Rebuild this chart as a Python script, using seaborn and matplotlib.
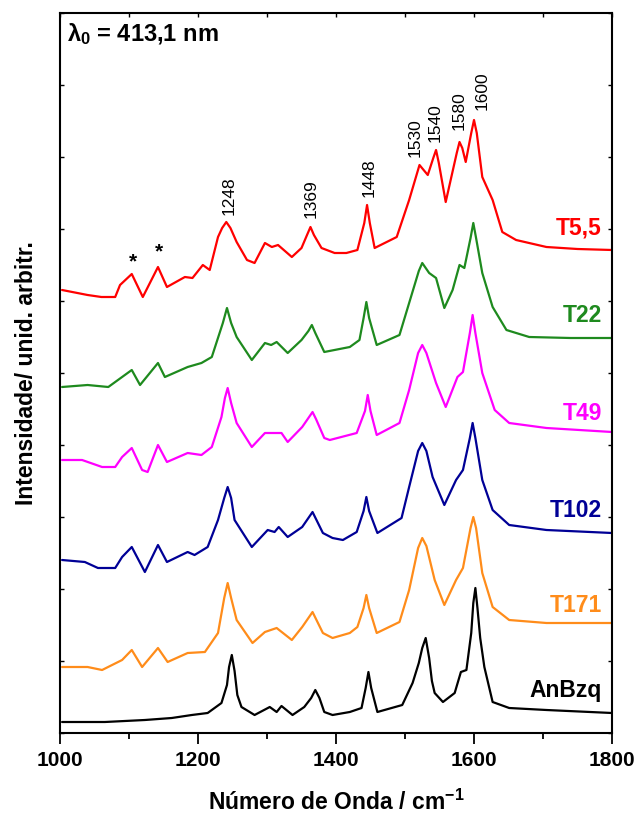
import numpy as np
import pandas as pd
import matplotlib
matplotlib.use("Agg")
import matplotlib.pyplot as plt
import seaborn as sns
from matplotlib.ticker import MultipleLocator

# ---------------- data (intensities as displayed, stacked, arbitrary units) -------------
series_names = ["T5,5", "T22", "T49", "T102", "T171", "AnBzq"]
series_colors = ["#ff0000", "#1e8a1e", "#ff00ff", "#000096", "#ff8c1a", "#000000"]

wn_t55 = [1003, 1040, 1060, 1080, 1087, 1104, 1120, 1142, 1155, 1181, 1192, 1207, 1217, 1229, 1235,
          1241, 1247, 1256, 1271, 1282, 1297, 1307, 1316, 1336, 1350, 1358, 1363, 1368, 1379, 1398,
          1415, 1431, 1441, 1445, 1449, 1456, 1488, 1506, 1521, 1533, 1541, 1545, 1549, 1559, 1575,
          1579, 1583, 1588, 1596, 1600, 1604, 1612, 1627, 1641, 1661, 1705, 1750, 1800]
int_t55 = [443, 438, 436, 436, 448, 459, 436, 466, 446, 456, 455, 468, 463, 496, 505,
           511, 505, 491, 473, 470, 490, 486, 488, 476, 485, 498, 506, 498, 485, 480,
           480, 483, 510, 528, 510, 485, 496, 533, 568, 558, 575, 583, 570, 531, 580,
           591, 585, 571, 600, 613, 600, 556, 533, 501, 493, 486, 484, 483]

wn_t22 = [1003, 1040, 1070, 1090, 1104, 1116, 1142, 1152, 1185, 1205, 1220, 1236, 1242, 1248, 1256,
          1278, 1297, 1306, 1314, 1330, 1350, 1360, 1365, 1370, 1383, 1420, 1434, 1440, 1444, 1448,
          1459, 1492, 1506, 1520, 1525, 1530, 1535, 1545, 1557, 1569, 1579, 1586, 1595, 1599, 1603,
          1612, 1627, 1647, 1680, 1740, 1800]
int_t22 = [346, 348, 346, 356, 363, 348, 370, 356, 366, 370, 376, 410, 425, 410, 396,
           373, 390, 388, 391, 380, 393, 402, 408, 400, 381, 386, 393, 415, 431, 415,
           388, 398, 430, 462, 470, 465, 460, 455, 425, 443, 468, 465, 495, 510, 495,
           460, 426, 403, 396, 395, 395]

wn_t49 = [1003, 1032, 1061, 1080, 1090, 1104, 1119, 1127, 1142, 1155, 1185, 1205, 1220, 1234, 1239,
          1243, 1248, 1256, 1278, 1297, 1321, 1330, 1351, 1361, 1366, 1371, 1383, 1391, 1430, 1442,
          1446, 1450, 1459, 1492, 1506, 1519, 1525, 1531, 1545, 1559, 1576, 1584, 1594, 1598, 1602,
          1612, 1630, 1651, 1705, 1800]
int_t49 = [273, 273, 266, 266, 276, 285, 263, 261, 288, 271, 280, 278, 286, 316, 335,
           345, 330, 310, 286, 300, 300, 291, 306, 316, 321, 314, 295, 293, 300, 322,
           338, 322, 298, 310, 343, 380, 388, 380, 350, 326, 356, 361, 400, 418, 400,
           360, 323, 310, 305, 301]

wn_t102 = [1003, 1036, 1055, 1080, 1090, 1104, 1123, 1142, 1155, 1185, 1195, 1214, 1229, 1238, 1243,
           1248, 1253, 1278, 1301, 1311, 1317, 1330, 1351, 1361, 1366, 1371, 1381, 1395, 1410, 1430,
           1440, 1444, 1448, 1460, 1495, 1506, 1519, 1525, 1531, 1540, 1557, 1574, 1584, 1594, 1598,
           1602, 1612, 1627, 1651, 1705, 1800]
int_t102 = [173, 171, 165, 165, 176, 186, 161, 188, 171, 181, 178, 186, 213, 235, 246,
            235, 213, 186, 203, 201, 206, 196, 206, 216, 221, 214, 200, 195, 193, 201,
            222, 236, 222, 200, 215, 246, 282, 290, 282, 256, 228, 253, 263, 295, 310,
            295, 253, 223, 208, 203, 200]

wn_t171 = [1003, 1040, 1061, 1090, 1104, 1119, 1142, 1156, 1185, 1210, 1229, 1238, 1243, 1248, 1256,
           1279, 1297, 1314, 1336, 1351, 1361, 1366, 1371, 1381, 1395, 1420, 1431, 1440, 1444, 1448,
           1459, 1492, 1506, 1519, 1525, 1531, 1543, 1557, 1574, 1584, 1595, 1599, 1603, 1612, 1627,
           1651, 1705, 1800]
int_t171 = [66, 66, 63, 73, 83, 66, 85, 71, 80, 81, 100, 135, 150, 135, 113,
            90, 101, 105, 93, 106, 116, 121, 114, 100, 95, 100, 106, 125, 138, 125,
            100, 111, 143, 185, 195, 187, 153, 128, 153, 165, 205, 216, 205, 160, 126,
            113, 110, 110]

wn_anbzq = [1003, 1065, 1123, 1162, 1191, 1214, 1234, 1242, 1245, 1249, 1253, 1257, 1263, 1282, 1304,
            1314, 1321, 1337, 1354, 1364, 1370, 1376, 1383, 1395, 1420, 1437, 1443, 1447, 1451, 1460,
            1496, 1511, 1520, 1525, 1530, 1535, 1539, 1543, 1555, 1572, 1581, 1589, 1596, 1599, 1602,
            1605, 1609, 1615, 1627, 1651, 1705, 1800]
int_anbzq = [11, 11, 13, 15, 18, 20, 30, 48, 66, 78, 62, 38, 26, 18, 26,
             21, 27, 18, 26, 35, 43, 35, 21, 18, 21, 25, 45, 61, 45, 21,
             28, 50, 70, 85, 95, 75, 52, 40, 31, 40, 61, 63, 100, 130, 145,
             125, 95, 66, 31, 25, 23, 20]

# peak annotations
peak_labels = ["1248", "1369", "1448", "1530", "1540", "1580", "1600"]
peak_label_x = [1245, 1364, 1448, 1515, 1544, 1579, 1612]
peak_label_y = [518, 515, 536, 576, 591, 603, 623]

star_x = [1106, 1144]
star_y = [471, 481]

# series label anchor (baseline, right aligned)
label_y = [498, 411, 313, 216, 121, 36]

# ---------------- style -------------------------------------------------------------------
sns.set_theme(style="white")
plt.rcParams["font.family"] = ["Liberation Sans", "DejaVu Sans"]
plt.rcParams["mathtext.fontset"] = "custom"
plt.rcParams["mathtext.rm"] = "Liberation Sans:bold"
plt.rcParams["mathtext.it"] = "Liberation Sans:bold"
plt.rcParams["mathtext.bf"] = "Liberation Sans:bold"
plt.rcParams["text.color"] = "black"
plt.rcParams["axes.labelcolor"] = "black"
plt.rcParams["xtick.color"] = "black"
plt.rcParams["ytick.color"] = "black"

frames = []
for name, wn, it in [("T5,5", wn_t55, int_t55), ("T22", wn_t22, int_t22), ("T49", wn_t49, int_t49),
                     ("T102", wn_t102, int_t102), ("T171", wn_t171, int_t171),
                     ("AnBzq", wn_anbzq, int_anbzq)]:
    frames.append(pd.DataFrame({"wn": wn, "I": it, "amostra": name}))
df = pd.concat(frames, ignore_index=True)
palette = dict(zip(series_names, series_colors))

fig = plt.figure(figsize=(6.39, 8.16), dpi=100)
ax = fig.add_axes([60 / 639, 1 - 733 / 816, 552 / 639, 720 / 816])

sns.lineplot(data=df, x="wn", y="I", hue="amostra", palette=palette, estimator=None,
             sort=False, linewidth=1.6, legend=False, ax=ax)

ax.set_xlim(1000, 1800)
ax.set_ylim(0, 720)

for sp in ax.spines.values():
    sp.set_linewidth(1.5)
    sp.set_color("black")

ax.xaxis.set_major_locator(MultipleLocator(200))
ax.xaxis.set_minor_locator(MultipleLocator(100))
ax.tick_params(axis="x", which="major", direction="out", length=8, width=1.3, bottom=True,
               top=False, pad=5, labelsize=15, colors="black")
ax.tick_params(axis="x", which="minor", direction="out", length=4.5, width=1.3, bottom=True, top=False)
for lab in ax.get_xticklabels():
    lab.set_fontweight("bold")

ax.yaxis.set_major_locator(MultipleLocator(72))
ax.tick_params(axis="y", which="major", direction="in", length=3, width=1.0, left=True, right=True,
               labelleft=False)

axt = ax.twiny()
axt.set_xlim(1000, 1800)
axt.xaxis.set_major_locator(MultipleLocator(100))
axt.tick_params(axis="x", direction="in", length=3, width=1.0, top=True, labeltop=False)
for sp in axt.spines.values():
    sp.set_visible(False)

ax.set_xlabel(r"Número de Onda / cm$^{-1}$", fontsize=16.5, fontweight="bold", labelpad=14,
              color="black")
ax.set_ylabel("Intensidade/ unid. arbitr.", fontsize=16.5, fontweight="bold", labelpad=16,
              color="black")

# series labels
for name, col, yy in zip(series_names, series_colors, label_y):
    ax.text(1785, yy, name, color=col, fontsize=16.5, fontweight="bold", ha="right", va="baseline")

# peak labels
for lab, xx, yy in zip(peak_labels, peak_label_x, peak_label_y):
    ax.text(xx, yy, lab, rotation=90, fontsize=12.5, ha="center", va="bottom", color="black")

for xx, yy in zip(star_x, star_y):
    ax.text(xx, yy, "*", fontsize=15, fontweight="bold", ha="center", va="center", color="black")

ax.text(0.012, 0.988, r"$\lambda_0$ = 413,1 nm", transform=ax.transAxes, fontsize=17,
        fontweight="bold", ha="left", va="top", color="black")

fig.savefig("out.png", dpi=100)
